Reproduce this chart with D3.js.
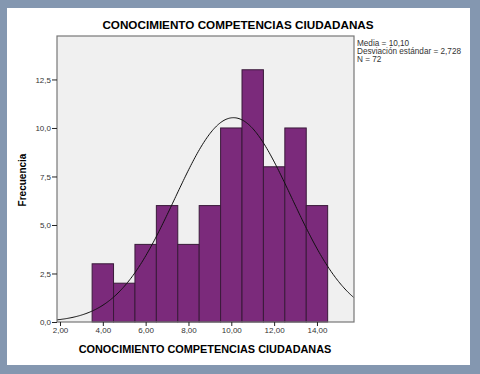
<!DOCTYPE html>
<html>
  <head>
    <title></title>
    <script src="https://d3js.org/d3.v7.min.js"></script>
    <style type="text/css">
      body {
        margin: 0;
        background: #8497b0;
        font-family: 'Liberation Sans', Arial, sans-serif;
      }
      .panel {
        position: absolute;
        left: 7px;
        top: 8px;
        width: 463px;
        height: 357px;
        background: #ffffff;
      }
      svg {
        position: absolute;
        left: 0;
        top: 0;
      }
    </style>
  </head>
  <body>
    <div class="panel"></div>
    <svg width="480" height="374"></svg>
    <script type="text/javascript">
      // histogram bins (centre values) and counts
      var binCenters = [4, 5, 6, 7, 8, 9, 10, 11, 12, 13, 14];
      var counts = [3, 2, 4, 6, 4, 6, 10, 13, 8, 10, 6];
      var xTicks = [2, 4, 6, 8, 10, 12, 14];
      var yTicks = [0, 2.5, 5, 7.5, 10, 12.5];
      var stats = {mean: 10.10, sd: 2.728, n: 72};
      var legendLines = ['Media = 10,10', 'Desviación estándar = 2,728', 'N = 72'];

      var svg = d3.select('svg');
      var plotL = 57, plotT = 36, plotR = 354, plotB = 322;

      var x = d3.scaleLinear().domain([1.86, 15.73]).range([plotL, plotR]);
      var y = d3.scaleLinear().domain([0, 14.74]).range([plotB, plotT]);

      svg.append('rect')
        .attr('x', plotL).attr('y', plotT)
        .attr('width', plotR - plotL).attr('height', plotB - plotT)
        .attr('fill', '#f0f0f0');

      var data = binCenters.map(function(c, i) { return {c: c, n: counts[i]}; });

      svg.selectAll('rect.bar')
        .data(data)
        .enter()
        .append('rect')
          .attr('class', 'bar')
          .attr('x', function(d) { return x(d.c - 0.5); })
          .attr('y', function(d) { return y(d.n); })
          .attr('width', function(d) { return x(d.c + 0.5) - x(d.c - 0.5); })
          .attr('height', function(d) { return y(0) - y(d.n); })
          .attr('fill', '#7b2a7b')
          .attr('stroke', '#3a1a3a')
          .attr('stroke-width', 1);

      // fitted normal curve from the printed statistics (bin width 1)
      var xs = d3.range(1.86, 15.74, 0.05);
      var norm = xs.map(function(v) {
        var z = (v - stats.mean) / stats.sd;
        return [v, stats.n / (stats.sd * Math.sqrt(2 * Math.PI)) * Math.exp(-0.5 * z * z)];
      });
      svg.append('path')
        .datum(norm)
        .attr('d', d3.line().x(function(d) { return x(d[0]); }).y(function(d) { return y(d[1]); }))
        .attr('fill', 'none')
        .attr('stroke', '#111')
        .attr('stroke-width', 1);

      svg.append('rect')
        .attr('x', plotL).attr('y', plotT)
        .attr('width', plotR - plotL).attr('height', plotB - plotT)
        .attr('fill', 'none')
        .attr('stroke', '#777')
        .attr('stroke-width', 1.2);

      var xAxis = svg.append('g')
        .attr('transform', 'translate(0,' + plotB + ')')
        .call(d3.axisBottom(x).tickValues(xTicks).tickSize(4).tickSizeOuter(0)
          .tickFormat(function(d) { return d.toFixed(2).replace('.', ','); }));
      var yAxis = svg.append('g')
        .attr('transform', 'translate(' + plotL + ',0)')
        .call(d3.axisLeft(y).tickValues(yTicks).tickSize(5).tickSizeOuter(0)
          .tickFormat(function(d) { return d.toFixed(1).replace('.', ','); }));

      [xAxis, yAxis].forEach(function(g) {
        g.select('.domain').remove();
        g.selectAll('line').attr('stroke', '#222');
        g.selectAll('text')
          .attr('fill', '#333')
          .style('font-family', "'Liberation Sans', Arial, sans-serif")
          .style('font-size', '8px');
      });
      xAxis.selectAll('text').attr('dy', '0.5em');
      yAxis.selectAll('text').attr('x', -6);

      svg.append('text')
        .attr('x', 238).attr('y', 29)
        .attr('text-anchor', 'middle')
        .style('font-size', '11.7px').style('font-weight', 'bold')
        .text('CONOCIMIENTO COMPETENCIAS CIUDADANAS');

      svg.append('text')
        .attr('x', 205).attr('y', 353)
        .attr('text-anchor', 'middle')
        .style('font-size', '10.9px').style('font-weight', 'bold')
        .text('CONOCIMIENTO COMPETENCIAS CIUDADANAS');

      svg.append('text')
        .attr('transform', 'translate(26,180) rotate(-90)')
        .attr('text-anchor', 'middle')
        .style('font-size', '10px').style('font-weight', 'bold')
        .text('Frecuencia');

      svg.selectAll('text.legend')
        .data(legendLines)
        .enter()
        .append('text')
          .attr('class', 'legend')
          .attr('x', 357)
          .attr('y', function(d, i) { return 46 + i * 7.8; })
          .attr('fill', '#333')
          .style('font-size', '8.2px')
          .text(function(d) { return d; });
    </script>
  </body>
</html>
